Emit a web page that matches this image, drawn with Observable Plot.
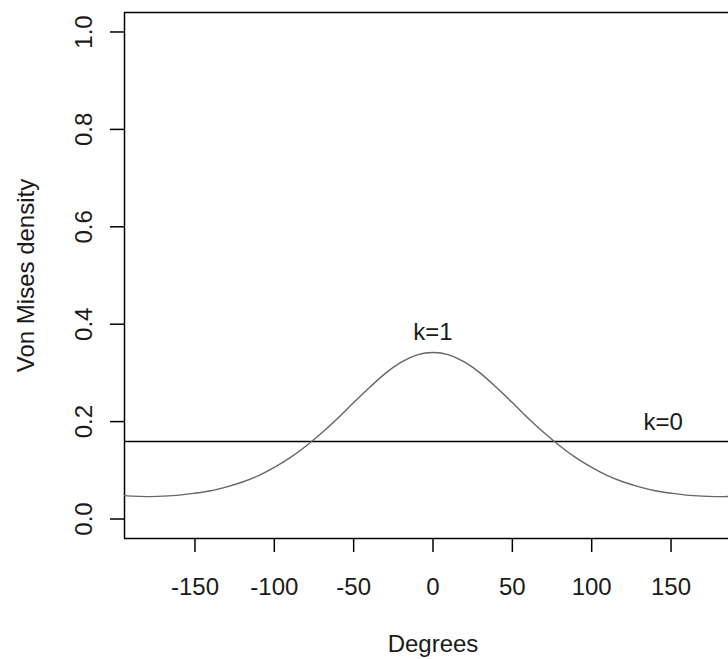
<!DOCTYPE html>
<html>
<head>
<meta charset="utf-8">
<script src="https://cdn.jsdelivr.net/npm/d3@7"></script>
<script src="https://cdn.jsdelivr.net/npm/@observablehq/plot@0.6"></script>
<style>
  html, body { margin: 0; padding: 0; background: white; overflow: hidden; }
</style>
</head>
<body>
<div id="chart"></div>
<script>
// Data
const degrees = [-200,-190,-180,-170,-160,-150,-140,-130,-120,-110,-100,-90,-80,-70,-60,-50,-40,-30,-20,-10,0,
                 10,20,30,40,50,60,70,80,90,100,110,120,130,140,150,160,170,180,190,200];
const densityK1 = [0.049,0.047,0.046,0.047,0.049,0.053,0.058,0.066,0.076,0.089,0.106,0.126,0.150,0.177,0.207,0.239,0.270,0.299,0.322,0.337,0.342,
                   0.337,0.322,0.299,0.270,0.239,0.207,0.177,0.150,0.126,0.106,0.089,0.076,0.066,0.058,0.053,0.049,0.047,0.046,0.047,0.049];
const uniformK0 = 0.159;

const xTicks = [-150, -100, -50, 0, 50, 100, 150];
const yTicks = [0, 0.2, 0.4, 0.6, 0.8, 1.0];
const xDomain = [-194.4, 194.4];
const yDomain = [-0.04, 1.04];

const labelText = ["k=1", "k=0"];
const labelX = [0, 145];
const labelY = [0.383, 0.198];

const xTitle = "Degrees";
const yTitle = "Von Mises density";

const rows = degrees.map((d, i) => ({deg: d, dens: densityK1[i]}));
const FS = 24;
const TXT = "#1a1a1a";

const chart = Plot.plot({
  width: 728,
  height: 659,
  marginLeft: 124,
  marginRight: -13,
  marginTop: 12,
  marginBottom: 121,
  x: {domain: xDomain},
  y: {domain: yDomain},
  style: {fontFamily: "'Liberation Sans', Arial, sans-serif", background: "white", color: "black"},
  marks: [
    Plot.axisX({ticks: xTicks, tickSize: 14, tickPadding: 35, lineAnchor: "middle", fontSize: FS,
                label: null, tickFormat: d => String(d), strokeWidth: 1.5, fill: TXT}),
    Plot.axisY({ticks: yTicks, tickSize: 14, tickPadding: 26, tickRotate: -90, lineAnchor: "middle",
                fontSize: FS, label: null, tickFormat: d => d.toFixed(1), strokeWidth: 1.5, fill: TXT}),
    Plot.ruleY([yDomain[0], yDomain[1]], {strokeWidth: 1.5}),
    Plot.ruleX([xDomain[0]], {strokeWidth: 1.5}),
    Plot.ruleY([uniformK0], {strokeWidth: 1.5}),
    Plot.line(rows, {x: "deg", y: "dens", stroke: "#666", strokeWidth: 1.4, curve: "natural", clip: true}),
    Plot.text(labelText, {x: (d, i) => labelX[i], y: (d, i) => labelY[i], text: d => d, fontSize: FS,
                          lineAnchor: "middle", fill: TXT}),
    Plot.text([xTitle], {frameAnchor: "bottom", dy: 106, fontSize: FS, lineAnchor: "middle",
                         textAnchor: "middle", fill: TXT}),
    Plot.text([yTitle], {frameAnchor: "left", dx: -98, rotate: -90, fontSize: FS, lineAnchor: "middle",
                         textAnchor: "middle", fill: TXT})
  ]
});
document.getElementById("chart").appendChild(chart);
</script>
</body>
</html>
